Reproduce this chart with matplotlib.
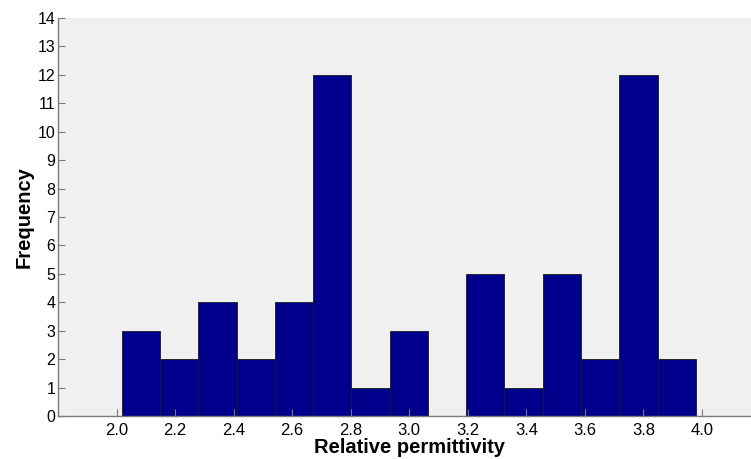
import matplotlib
matplotlib.use('Agg')

import numpy as np
import matplotlib.pyplot as plt

# histogram counts (15 equal bins)
counts = [3, 2, 4, 2, 4, 12, 1, 3, 0, 5, 1, 5, 2, 12, 2]
bin_lo = 2.018
bin_hi = 3.979
xticks = [2.0, 2.2, 2.4, 2.6, 2.8, 3.0, 3.2, 3.4, 3.6, 3.8, 4.0]
yticks = list(range(0, 15))

plt.rcParams['font.family'] = ['Liberation Sans', 'DejaVu Sans']

edges = np.linspace(bin_lo, bin_hi, len(counts) + 1)

fig = plt.figure(figsize=(7.51, 4.59), dpi=100)
# axes runs slightly past the right edge, like the cropped original
ax = fig.add_axes([58/751, 43/459, 702.5/751, 398/459])
ax.set_facecolor('#f0f0f0')

ax.bar(edges[:-1], counts, width=np.diff(edges), align='edge',
       color='#00008c', edgecolor='#1a1a1a', linewidth=0.6)

ax.set_xlim(1.8, 4.2)
ax.set_ylim(0, 14)
ax.set_xticks(xticks)
ax.set_xticklabels(['%.1f' % v for v in xticks])
ax.set_yticks(yticks)

for s in ['top', 'right']:
    ax.spines[s].set_visible(False)
for s in ['left', 'bottom']:
    ax.spines[s].set_color('#7a7a7a')
    ax.spines[s].set_linewidth(1.0)

ax.tick_params(direction='in', length=5, width=0.8, color='#7a7a7a')
ax.tick_params(axis='x', labelsize=12, pad=5)
ax.tick_params(axis='y', labelsize=11.5, pad=2)

ax.set_xlabel('Relative permittivity', fontsize=14.5, fontweight='bold', labelpad=0)
ax.set_ylabel('Frequency', fontsize=14.5, fontweight='bold', labelpad=3)

fig.savefig('out.png', dpi=100)
